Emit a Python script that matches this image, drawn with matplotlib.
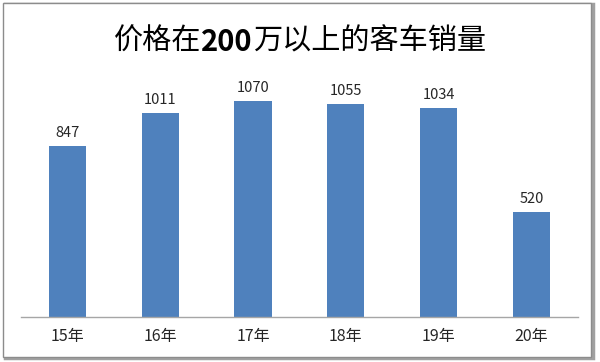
import matplotlib
matplotlib.use("Agg")
import matplotlib.pyplot as plt
from matplotlib.patches import Rectangle

plt.rcParams['font.family'] = ['Noto Sans CJK SC', 'DejaVu Sans']

categories = ["15年", "16年", "17年", "18年", "19年", "20年"]
values = [847, 1011, 1070, 1055, 1034, 520]
title_parts = ["价格在", "200", "万以上的客车销量"]
title_bold = [False, True, False]

fig = plt.figure(figsize=(6.0, 3.62), dpi=100)
ax = fig.add_axes([0.035, 0.125, 0.928, 0.668])
ax.set_zorder(2)
ax.patch.set_alpha(0)

x = range(len(categories))
bars = ax.bar(x, values, width=0.4, color="#4F81BD", zorder=2)
for xi, v in zip(x, values):
    ax.text(xi, v + 30, str(v), ha="center", va="bottom", fontsize=10.5, color="#262626")

ax.set_xlim(-0.5, len(categories) - 0.5)
ax.set_ylim(0, 1200)
ax.set_xticks(list(x))
ax.set_xticklabels(categories, fontsize=11.5, color="#262626")
ax.tick_params(axis="x", length=0, pad=8)
ax.set_yticks([])
for s in ["top", "right", "left"]:
    ax.spines[s].set_visible(False)
ax.spines["bottom"].set_color("#A6A6A6")
ax.spines["bottom"].set_linewidth(1.0)

# title composed of pieces (the number is bold)
renderer = fig.canvas.get_renderer()
texts = []
widths = []
for part, b in zip(title_parts, title_bold):
    t = fig.text(0, 0.885, part, ha="left", va="center", fontsize=21,
                 fontweight="bold" if b else "normal", color="#000000", zorder=3)
    texts.append(t)
    widths.append(t.get_window_extent(renderer).width / fig.bbox.width)
total = sum(widths)
xpos = 0.5 - total / 2
for t, w in zip(texts, widths):
    t.set_x(xpos)
    xpos += w

# outer frame with shadow
fig.patches.append(Rectangle((0.009, 0.011), 0.98, 0.978, transform=fig.transFigure,
                             fill=False, edgecolor="#A0A0A0", linewidth=2.5, zorder=-2))
fig.patches.append(Rectangle((0.005, 0.015), 0.98, 0.978, transform=fig.transFigure,
                             facecolor="white", edgecolor="#8C8C8C", linewidth=1.0, zorder=-1))

fig.savefig("out.png", dpi=100, facecolor="white")
